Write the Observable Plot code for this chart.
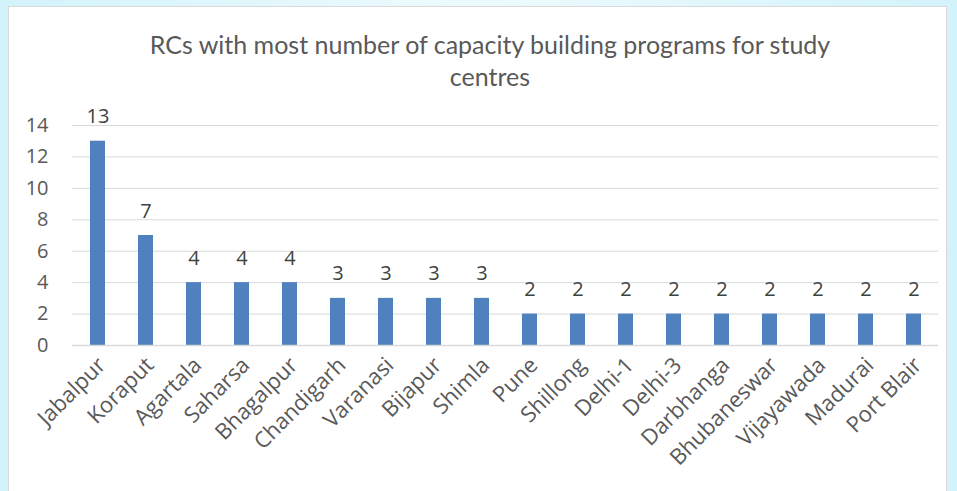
<!DOCTYPE html>
<html><head><meta charset="utf-8">
<script src="https://cdn.jsdelivr.net/npm/d3@7"></script>
<script src="https://cdn.jsdelivr.net/npm/@observablehq/plot@0.6"></script>
<style>
body{margin:0;width:957px;height:491px;overflow:hidden;position:relative;background:linear-gradient(90deg,#d3f3fb 0%,#eefbfe 50%,#d3f3fb 100%);}
#frame{position:absolute;left:8px;top:6px;width:939px;height:500px;background:#fff;border:1px solid #d9d9d9;box-sizing:border-box;}
#title{position:absolute;left:0;top:28px;width:980px;text-align:center;font-family:Lato,sans-serif;font-weight:400;font-size:25px;line-height:32px;color:#595959;}
#chart{position:absolute;left:0;top:0;}
</style></head>
<body>
<div id="frame"></div>
<div id="chart"></div>
<div id="title">RCs with most number of capacity building programs for study<br>centres</div>
<script>
const categories = ["Jabalpur","Koraput","Agartala","Saharsa","Bhagalpur","Chandigarh","Varanasi","Bijapur","Shimla","Pune","Shillong","Delhi-1","Delhi-3","Darbhanga","Bhubaneswar","Vijayawada","Madurai","Port Blair"];
const values = [13,7,4,4,4,3,3,3,3,2,2,2,2,2,2,2,2,2];
const yTicks = [0,2,4,6,8,10,12,14];
const data = categories.map((c,i)=>({rc:c, n:values[i]}));

const chart = Plot.plot({
  width: 957, height: 491,
  marginLeft: 72, marginRight: 19, marginTop: 125, marginBottom: 146,
  style: {fontFamily: "Open Sans, sans-serif", fontSize: "19px", color: "#595959", background: "transparent", overflow: "visible"},
  x: {type: "band", domain: categories, paddingInner: 0.69, paddingOuter: 0.345, axis: null, label: null},
  y: {domain: [0,14], axis: null, label: null},
  marks: [
    Plot.gridY(yTicks, {stroke: "#d9d9d9", strokeOpacity: 1, strokeWidth: 1}),
    Plot.barY(data, {x: "rc", y: "n", fill: "#4f81bd"}),
    Plot.ruleY([0], {stroke: "#d9d9d9", strokeWidth: 1.5}),
    Plot.text(data, {x: "rc", y: "n", text: d => String(d.n), lineAnchor: "bottom", dy: -18, fill: "#404040", fontSize: 20, fontFamily: "Open Sans"}),
    Plot.axisY({ticks: yTicks, tickSize: 0, tickPadding: 24, fontSize: 20, fontFamily: "Open Sans", fill: "#595959", label: null}),
    Plot.axisX({tickRotate: -45, tickSize: 0, tickPadding: 16, dx: 4, fontSize: 22, fontFamily: "Open Sans", fill: "#595959", label: null})
  ]
});
document.getElementById("chart").appendChild(chart);
</script>
</body></html>
